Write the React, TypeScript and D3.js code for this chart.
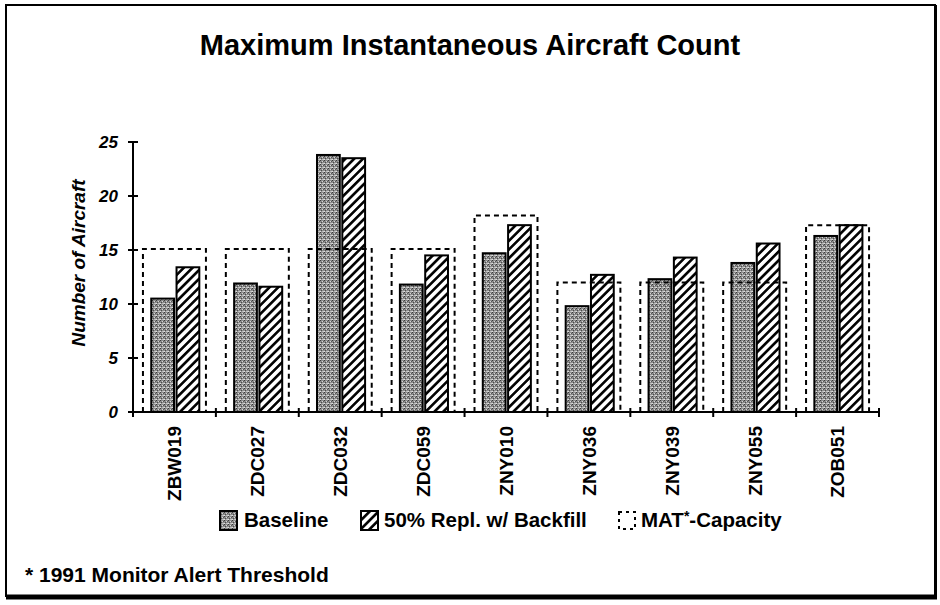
import React from 'react';
import * as d3 from 'd3';

// values
const sectors = ['ZBW019', 'ZDC027', 'ZDC032', 'ZDC059', 'ZNY010', 'ZNY036', 'ZNY039', 'ZNY055', 'ZOB051'];
const baseline = [10.5, 11.9, 23.8, 11.8, 14.7, 9.8, 12.3, 13.8, 16.3];
const replBackfill = [13.4, 11.6, 23.5, 14.5, 17.3, 12.7, 14.3, 15.6, 17.3];
const matCapacity = [15.1, 15.1, 15.1, 15.1, 18.2, 12.0, 12.0, 12.0, 17.3];
const yTicks = [0, 5, 10, 15, 20, 25];

const W = 940;
const H = 605;
const margin = { top: 142, right: 61, bottom: 193, left: 133 };

const App = () => {
  const x = d3.scaleBand<string>()
    .domain(sectors)
    .range([margin.left, W - margin.right])
    .padding(0);

  const y = d3.scaleLinear()
    .domain([0, 25])
    .range([H - margin.bottom, margin.top]);

  const bw = x.bandwidth();
  // two bars side by side inside each sector
  const x1 = d3.scaleBand<string>()
    .domain(['base', 'repl'])
    .range([bw * 0.22, bw * 0.8])
    .paddingInner(0.1);

  const matInset = bw * 0.12;
  const y0 = y(0);

  const boundaries = sectors.map(s => x(s) as number).concat([W - margin.right]);

  const font = 'Liberation Sans, Arial, Helvetica, sans-serif';

  return (
    <svg width={W} height={H} style={{ position: 'absolute', left: 0, top: 0, background: '#fff' }}
      fontFamily={font}>
      <defs>
        <pattern id="stipple" patternUnits="userSpaceOnUse" width="4" height="4">
          <rect width="4" height="4" fill="#8c8c8c" />
          <rect x="0" y="0" width="1" height="1" fill="#3a3a3a" />
          <rect x="2" y="1" width="1" height="1" fill="#d6d6d6" />
          <rect x="1" y="2" width="1" height="1" fill="#4a4a4a" />
          <rect x="3" y="3" width="1" height="1" fill="#cccccc" />
          <rect x="3" y="1" width="1" height="1" fill="#5a5a5a" />
          <rect x="0" y="3" width="1" height="1" fill="#e0e0e0" />
          <rect x="2" y="3" width="1" height="1" fill="#b8b8b8" />
        </pattern>
        <pattern id="hatch" patternUnits="userSpaceOnUse" width="6.2" height="6.2"
          patternTransform="rotate(45)">
          <rect width="6.2" height="6.2" fill="#fff" />
          <line x1="3.1" y1="0" x2="3.1" y2="6.2" stroke="#000" strokeWidth="2.6" />
        </pattern>
      </defs>

      {/* frame */}
      <rect x={6} y={5} width={929} height={591} fill="none" stroke="#000" strokeWidth={2} />
      <line x1={6} y1={597} x2={937} y2={597} stroke="#000" strokeWidth={5} />
      <line x1={935.5} y1={5} x2={935.5} y2={598} stroke="#000" strokeWidth={3} />

      {/* title */}
      <text x={470} y={55} textAnchor="middle" fontSize={29} fontWeight="bold">
        Maximum Instantaneous Aircraft Count
      </text>

      {/* bars */}
      {sectors.map((s, i) => {
        const bx = x(s) as number;
        return (
          <g key={s}>
            <rect x={bx + (x1('base') as number)} y={y(baseline[i])}
              width={x1.bandwidth()} height={y0 - y(baseline[i])}
              fill="url(#stipple)" stroke="#000" strokeWidth={2} />
            <rect x={bx + (x1('repl') as number)} y={y(replBackfill[i])}
              width={x1.bandwidth()} height={y0 - y(replBackfill[i])}
              fill="url(#hatch)" stroke="#000" strokeWidth={2} />
          </g>
        );
      })}

      {/* MAT capacity boxes */}
      {sectors.map((s, i) => {
        const bx = x(s) as number;
        const l = bx + matInset;
        const r = bx + bw - matInset;
        const t = y(matCapacity[i]);
        return (
          <path key={s} d={`M${l},${y0}V${t}H${r}V${y0}`} fill="none"
            stroke="#000" strokeWidth={2} strokeDasharray="5,4" />
        );
      })}

      {/* axes */}
      <line x1={margin.left} y1={y0} x2={W - margin.right + 1} y2={y0} stroke="#000" strokeWidth={2} />
      <line x1={margin.left} y1={y0} x2={margin.left} y2={y(25)} stroke="#000" strokeWidth={2} />
      {boundaries.map((b, i) => (
        <line key={i} x1={b} x2={b} y1={y0 - 4} y2={y0 + 5} stroke="#000" strokeWidth={2} />
      ))}
      {yTicks.map(t => (
        <g key={t}>
          <line x1={margin.left - 5} x2={margin.left + 5} y1={y(t)} y2={y(t)} stroke="#000" strokeWidth={2} />
          <text x={118} y={y(t)} dy="0.36em" textAnchor="end" fontSize={17}
            fontWeight="bold" fontStyle="italic">{t}</text>
        </g>
      ))}
      <text transform={`translate(78,${(y(0) + y(25)) / 2 - 14}) rotate(-90)`} textAnchor="middle"
        dy="0.36em" fontSize={19} fontWeight="bold" fontStyle="italic">
        Number of Aircraft
      </text>

      {/* category labels */}
      {sectors.map(s => (
        <text key={s} transform={`translate(${(x(s) as number) + bw / 2},${y0 + 14}) rotate(-90)`}
          textAnchor="end" dy="0.36em" fontSize={19} fontWeight="bold">{s}</text>
      ))}

      {/* legend */}
      <g>
        <rect x={220} y={511} width={17} height={19} fill="url(#stipple)" stroke="#000" strokeWidth={2} />
        <text x={244} y={527} fontSize={20.5} fontWeight="bold">Baseline</text>
        <rect x={361} y={511} width={17} height={19} fill="url(#hatch)" stroke="#000" strokeWidth={2} />
        <text x={384} y={527} fontSize={20.5} fontWeight="bold">50% Repl. w/ Backfill</text>
        <rect x={619} y={512} width={16} height={17} fill="none" stroke="#000" strokeWidth={2}
          strokeDasharray="3,4" />
        <text x={641} y={527} fontSize={20.5} fontWeight="bold">
          MAT<tspan fontSize={14} dy={-6}>*</tspan><tspan dy={6}>-Capacity</tspan>
        </text>
      </g>

      {/* footnote */}
      <text x={25} y={582} fontSize={21} fontWeight="bold">* 1991 Monitor Alert Threshold</text>
    </svg>
  );
};

export default App;
